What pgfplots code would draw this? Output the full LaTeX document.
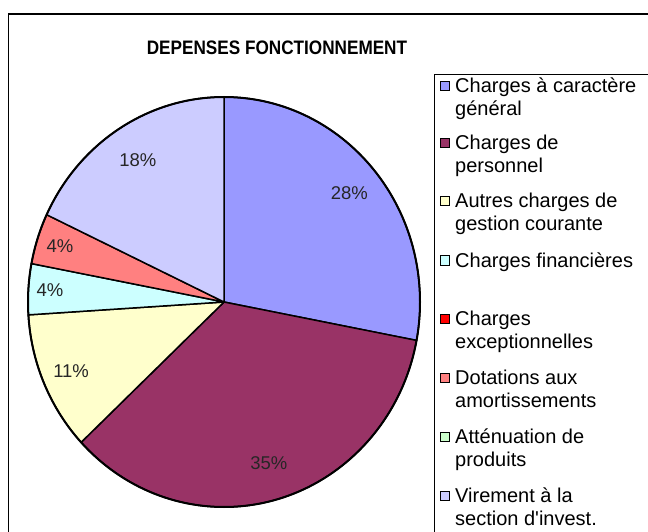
\documentclass[border=0pt]{standalone}
\usepackage{pgfplots}
\pgfplotsset{compat=1.18}
\usepackage{pgfplotstable}
\usepackage{fontspec}
\setmainfont{Liberation Sans}
\definecolor{c1}{HTML}{9999FF}
\definecolor{c2}{HTML}{993366}
\definecolor{c3}{HTML}{FFFFCC}
\definecolor{c4}{HTML}{CCFFFF}
\definecolor{c5}{HTML}{FF0000}
\definecolor{c6}{HTML}{FF8080}
\definecolor{c7}{HTML}{CCFFCC}
\definecolor{c8}{HTML}{CCCCFF}
% value, fill colour, label radius (fraction of the pie radius)
\pgfplotstableread{
value color lr
28 c1 0.83
35 c2 0.82
11 c3 0.85
4 c4 0.89
0 c5 0.85
4 c6 0.88
0 c7 0.85
18 c8 0.82
}\piedata
\newcommand\legfont{\fontsize{20}{23}\selectfont}
% #1 = image y of first line centre
\newcommand\legentry[4]{%
  \filldraw[fill=#2,draw=black,line width=1pt] (440,{531-#1-5}) rectangle (449,{531-#1+4});
  \node[anchor=base west,inner sep=0pt,font=\legfont] at (455,{531-#1-7}) {#3};
  \node[anchor=base west,inner sep=0pt,font=\legfont] at (455,{531-#1-30}) {#4};
}
\begin{document}
\begin{tikzpicture}[x=1pt,y=1pt]
\fill[white] (0,0) rectangle (648,531);
\begin{axis}[at={(0pt,0pt)}, anchor=south west, x=196pt, y=205pt,
  xmin=-1.142857, xmax=2.163265, ymin=-1.117073, ymax=1.473171,
  hide axis, clip=false]
\pgfplotsextra{
  \pgfplotstablegetrowsof{\piedata}
  \pgfmathtruncatemacro\nrows{\pgfplotsretval-1}
  \gdef\cum{0}
  \foreach \i in {0,...,\nrows}{
    \pgfplotstablegetelem{\i}{value}\of\piedata \let\v\pgfplotsretval
    \pgfplotstablegetelem{\i}{color}\of\piedata \let\c\pgfplotsretval
    \pgfmathsetmacro\a{90-3.6*\cum}
    \pgfmathsetmacro\b{90-3.6*(\cum+\v)}
    \ifdim\v pt>0pt
      \filldraw[fill=\c, draw=black, line width=1.5pt, line join=round]
        (axis cs:0,0) -- (axis cs:{cos(\a)},{sin(\a)})
        arc[start angle=\a, end angle=\b, x radius=196pt, y radius=205pt] -- cycle;
    \fi
    \pgfmathsetmacro\newcum{\cum+\v}\xdef\cum{\newcum}
  }
  \draw[line width=2pt] (axis cs:0,0) ellipse[x radius=196pt, y radius=205pt];
  \gdef\cum{0}
  \foreach \i in {0,...,\nrows}{
    \pgfplotstablegetelem{\i}{value}\of\piedata \let\v\pgfplotsretval
    \pgfplotstablegetelem{\i}{lr}\of\piedata \let\r\pgfplotsretval
    \pgfmathsetmacro\m{90-3.6*(\cum+\v/2)}
    \ifdim\v pt>0pt
      \node[font=\fontsize{18.5}{20}\selectfont, text=black!85] at (axis cs:{\r*cos(\m)},{\r*sin(\m)}) {\v\%};
    \fi
    \pgfmathsetmacro\newcum{\cum+\v}\xdef\cum{\newcum}
  }
}
\end{axis}
\begin{scope}
\clip (0,0) rectangle (648,531);
\draw[line width=1.3pt] (8.5,-10) -- (8.5,517) -- (660,517);
\draw[line width=1pt] (434,-10) -- (434,456) -- (660,456);
\end{scope}
\node[font=\fontsize{19.5}{22}\selectfont\bfseries, xscale=0.88] at (277,483) {DEPENSES FONCTIONNEMENT};
\legentry{86}{c1}{Charges à caractère}{général}
\legentry{143}{c2}{Charges de}{personnel}
\legentry{201}{c3}{Autres charges de}{gestion courante}
\legentry{260}{c4}{Charges financières}{}
\legentry{318}{c5}{Charges}{exceptionnelles}
\legentry{377}{c6}{Dotations aux}{amortissements}
\legentry{436}{c7}{Atténuation de}{produits}
\legentry{495}{c8}{Virement à la}{section d\textquotesingle invest.}
\pgfresetboundingbox
\useasboundingbox (0,0) rectangle (648,531);
\end{tikzpicture}
\end{document}
